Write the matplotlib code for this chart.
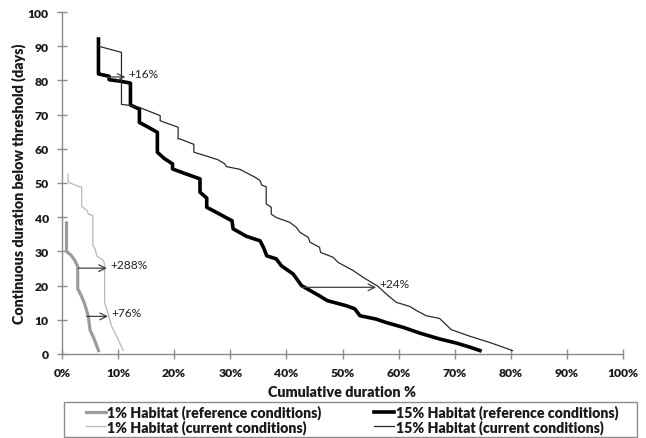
import matplotlib
matplotlib.use("Agg")
import matplotlib.pyplot as plt
from matplotlib.patches import Rectangle
from matplotlib.ticker import FuncFormatter, MultipleLocator

plt.rcParams['font.family'] = ['Lato', 'DejaVu Sans']

# ---- data (x = cumulative duration %, y = continuous duration in days) ----
ref15_x = [6.5, 6.5, 8.4, 8.4, 10.3, 12.2, 12.2, 13.8, 13.8, 15.4, 17.0, 17.0, 18.2, 19.7, 19.7,
           22.2, 24.6, 24.6, 25.8, 25.8, 28.1, 29.9, 30.3, 30.5, 32.9, 35.3, 35.9, 36.5, 38.2,
           39.1, 41.2, 42.7, 45.9, 47.3, 50.7, 52.2, 53.1, 56.0, 57.8, 60.8, 63.8, 67.3, 70.3,
           72.7, 74.5]
ref15_y = [92.1, 81.9, 81.2, 80.2, 79.8, 79.2, 72.8, 71.6, 67.7, 66.3, 64.8, 59.0, 57.2, 55.6, 54.1,
           52.6, 51.2, 47.3, 45.6, 42.9, 40.9, 39.3, 39.0, 36.6, 34.4, 33.1, 31.2, 28.7, 27.8,
           25.8, 23.4, 20.0, 17.0, 15.6, 14.1, 13.2, 11.2, 10.2, 9.2, 7.8, 6.1, 4.4, 3.2,
           2.0, 1.0]

cur15_x = [6.5, 10.6, 10.6, 12.4, 13.8, 17.5, 17.5, 20.7, 20.7, 21.0, 23.5, 23.5, 25.5, 27.8, 29.0,
           29.3, 31.7, 34.4, 35.3, 35.6, 36.4, 36.4, 37.3, 37.3, 38.2, 40.6, 41.8, 42.4, 43.9,
           44.2, 45.9, 46.1, 48.3, 49.2, 51.9, 53.7, 56.3, 58.1, 59.6, 62.0, 63.2, 64.9, 67.3,
           69.4, 72.7, 76.2, 78.6, 80.3]
cur15_y = [90.0, 88.2, 73.0, 72.6, 72.1, 69.7, 68.2, 66.3, 62.9, 62.9, 61.3, 59.0, 58.0, 56.8, 55.6,
           54.8, 54.0, 51.7, 50.7, 49.4, 48.9, 43.9, 42.9, 40.9, 39.9, 38.5, 37.0, 35.6, 34.1,
           32.7, 31.2, 29.7, 28.3, 26.8, 24.4, 22.4, 19.8, 17.1, 15.1, 13.9, 12.7, 11.2, 10.4,
           7.1, 5.2, 3.4, 2.0, 1.0]

ref1_x = [0.8, 0.8, 1.4, 1.7, 2.3, 2.8, 2.8, 3.0, 3.5, 4.0, 4.4, 4.7, 5.0, 5.6, 6.0, 6.5]
ref1_y = [38.3, 30.0, 29.2, 28.7, 27.3, 25.6, 19.0, 18.5, 16.8, 14.8, 12.7, 10.9, 7.0, 4.9, 3.2, 1.0]

cur1_x = [1.1, 1.1, 3.5, 3.5, 4.5, 4.7, 5.5, 5.5, 5.9, 6.2, 7.4, 7.6, 7.6, 8.2, 8.8, 9.7, 10.5, 10.9]
cur1_y = [52.6, 50.2, 48.7, 43.2, 41.9, 40.9, 40.5, 31.8, 30.7, 28.7, 27.3, 26.0, 15.0, 12.0, 8.3, 5.3, 2.5, 1.0]

# annotations: (label, x_start, x_end, y)
ann_labels = ['+16%', '+288%', '+76%', '+24%']
ann_x0 = [8.2, 2.9, 4.4, 42.7]
ann_x1 = [11.3, 8.0, 8.2, 56.0]
ann_y = [81.0, 25.1, 11.0, 19.5]

labels = ['1% Habitat (reference conditions)', '1% Habitat (current conditions)',
          '15% Habitat (reference conditions)', '15% Habitat (current conditions)']
xlabel = 'Cumulative duration %'
ylabel = 'Continuous duration below threshold (days)'

W, H = 646, 439
fig = plt.figure(figsize=(W / 100, H / 100), dpi=100)
renderer = fig.canvas.get_renderer()
BOLD = 'heavy'


def fit_size(s, weight, target_px, base=10.0):
    t = fig.text(0, 0, s, fontsize=base, fontweight=weight)
    w = t.get_window_extent(renderer).width
    t.remove()
    return base * target_px / w


fs_tick = fit_size('100%', BOLD, 31)
fs_xlab = fit_size(xlabel, BOLD, 148)
fs_ylab = fit_size(ylabel, BOLD, 282)
fs_leg = fit_size(labels[2], BOLD, 222)
fs_ann = fit_size('+288%', 'normal', 37)

ax = fig.add_axes([62 / W, 1 - 355 / H, (623 - 62) / W, (355 - 13) / H])

l1, = ax.plot(ref1_x, ref1_y, color='#9c9c9c', lw=2.3, solid_joinstyle='round')
l2, = ax.plot(cur1_x, cur1_y, color='#b8b8b8', lw=0.9)
l3, = ax.plot(ref15_x, ref15_y, color='#000000', lw=2.6, solid_joinstyle='round')
l4, = ax.plot(cur15_x, cur15_y, color='#2a2a2a', lw=0.9)

for lab, x0, x1, y in zip(ann_labels, ann_x0, ann_x1, ann_y):
    ax.annotate('', xy=(x1, y), xytext=(x0, y),
                arrowprops=dict(arrowstyle='->', color='#404040', lw=0.9,
                                shrinkA=0, shrinkB=0, mutation_scale=12))
    ax.text(x1 + 0.6, y + 1.0, lab, fontsize=fs_ann, color='#222222', va='center', ha='left')

ax.set_xlim(0, 100)
ax.set_ylim(0, 100)
ax.xaxis.set_major_locator(MultipleLocator(10))
ax.yaxis.set_major_locator(MultipleLocator(10))
ax.xaxis.set_major_formatter(FuncFormatter(lambda v, p: f'{v:.0f}%'))
ax.yaxis.set_major_formatter(FuncFormatter(lambda v, p: f'{v:.0f}'))

for s in ['top', 'right']:
    ax.spines[s].set_visible(False)
for s in ['left', 'bottom']:
    ax.spines[s].set_color('#8c8c8c')
    ax.spines[s].set_linewidth(1.0)
ax.tick_params(axis='both', direction='inout', length=7, width=1.0, color='#8c8c8c',
               labelsize=fs_tick)
ax.tick_params(axis='x', pad=6)
ax.tick_params(axis='y', pad=6)
for t in ax.get_xticklabels() + ax.get_yticklabels():
    t.set_fontweight(BOLD)
    t.set_color('#1a1a1a')

ax.set_xlabel(xlabel, fontsize=fs_xlab, fontweight=BOLD, color='#1a1a1a')
ax.set_ylabel(ylabel, fontsize=fs_ylab, fontweight=BOLD, color='#1a1a1a')
ax.xaxis.label.set_va('center')
ax.yaxis.label.set_va('center')
ax.xaxis.set_label_coords(0.5, -(393 - 355) / 342)
ax.yaxis.set_label_coords((19 - 62) / 561, 0.5)

leg = fig.legend([l1, l2, l3, l4], labels, ncol=2, frameon=False, mode='expand',
                 loc='center', bbox_to_anchor=(86 / W, 1 - 434 / H, (618 - 86) / W, 28 / H),
                 bbox_transform=fig.transFigure, handlelength=1.4, handletextpad=0.1,
                 borderpad=0.0, labelspacing=0.0, borderaxespad=0,
                 prop={'weight': BOLD, 'size': fs_leg})
for t in leg.get_texts():
    t.set_color('#1a1a1a')
fig.patches.append(Rectangle((64 / W, 1 - 438 / H), (637 - 64) / W, (438 - 403) / H,
                             transform=fig.transFigure, fill=False, edgecolor='#8c8c8c', lw=1.0))

fig.savefig('out.png', dpi=100)
